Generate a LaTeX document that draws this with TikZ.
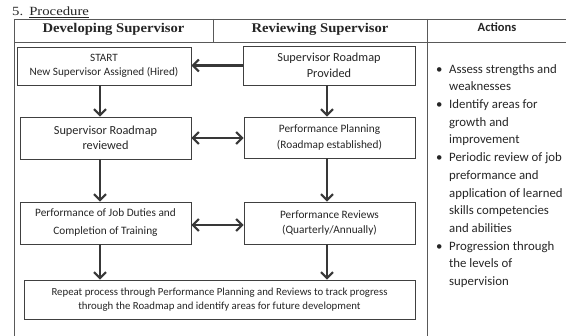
\documentclass[tikz,border=0pt]{standalone}
\usepackage{fontspec}
\setmainfont{Carlito}
\newfontfamily\headfont[FakeStretch=1.1]{Liberation Serif}
\newfontfamily\titlefont[FakeStretch=1.18]{Liberation Serif}
\usetikzlibrary{arrows.meta}

\begin{document}
\begin{tikzpicture}[x=1pt,y=-1pt,
  rule/.style={draw=black!65, line width=0.8pt},
  flowbox/.style={draw=black!75, line width=0.8pt, align=center, inner sep=0pt,
    text=black!85, font=\fontsize{11.3}{15.5}\selectfont},
  bigbox/.style={flowbox, font=\fontsize{12.3}{15.5}\selectfont},
  tip/.style={Straight Barb[length=6pt,width=12pt]},
  flow/.style={draw=black!78, line width=2.1pt, -{Straight Barb[length=6pt,width=12pt]}},
  twoway/.style={draw=black!78, line width=2.1pt, {Straight Barb[length=6pt,width=12pt]}-{Straight Barb[length=6pt,width=12pt]}},
  colhead/.style={anchor=base, text=black!85, font=\headfont\bfseries\fontsize{13.3}{16}\selectfont},
]
\useasboundingbox (0,0) rectangle (566,336);
\fill[white] (0,0) rectangle (566,336);

% section title
\node[anchor=base west, inner sep=0pt, text=black!85, font=\titlefont\fontsize{12.5}{15}\selectfont] (title) at (12,16)
  {5.\hspace{6pt}\underline{Procedure}};

% table frame
\draw[rule] (14,19) -- (566,19);
\draw[rule] (14,42) -- (566,42);
\draw[rule] (14,19) -- (14,336);
\draw[rule] (213,19) -- (213,42);
\draw[rule] (427,19) -- (427,336);

% column headings
\node[colhead] (hdev) at (113.5,33) {Developing Supervisor};
\node[colhead] (hrev) at (320,33) {Reviewing Supervisor};
\node[anchor=base, text=black!85, font=\bfseries\fontsize{12.5}{15}\selectfont] (hact) at (497,32) {Actions};

% flow boxes
\node[flowbox, minimum width=174pt, minimum height=38pt, font=\fontsize{11.2}{13.5}\selectfont] (start) at (104,66)
  {START\\New Supervisor Assigned (Hired)};
\node[bigbox, minimum width=172pt, minimum height=39pt] (provided) at (329,65.5)
  {Supervisor Roadmap\\Provided};
\node[bigbox, minimum width=171pt, minimum height=42pt] (reviewed) at (105.5,138)
  {Supervisor Roadmap\\reviewed};
\node[flowbox, minimum width=171pt, minimum height=41pt] (planning) at (329.5,137.5)
  {Performance Planning\\(Roadmap established)};
\node[flowbox, minimum width=171pt, minimum height=42pt, font=\fontsize{11.3}{18}\selectfont] (duties) at (105.5,223)
  {Performance of Job Duties and\\Completion of Training};
\node[flowbox, minimum width=171pt, minimum height=42pt] (reviews) at (329.5,223)
  {Performance Reviews\\(Quarterly/Annually)};
\node[flowbox, minimum width=391pt, minimum height=39pt, font=\fontsize{10.8}{14.5}\selectfont] (repeat) at (219.5,299.5)
  {Repeat process through Performance Planning and Reviews to track progress\\through the Roadmap and identify areas for future development};

% connectors
\coordinate (lx) at (100,0);
\coordinate (rx) at (327,0);
\draw[flow] (provided.west) -- (provided.west -| start.east);
\draw[flow] (start.south -| lx) -- (reviewed.north -| lx);
\draw[flow] (reviewed.south -| lx) -- (duties.north -| lx);
\draw[flow] (duties.south -| lx) -- (repeat.north -| lx);
\draw[flow] (provided.south -| rx) -- (planning.north -| rx);
\draw[flow] (planning.south -| rx) -- (reviews.north -| rx);
\draw[flow] (reviews.south -| rx) -- (repeat.north -| rx);
\draw[twoway] (reviewed.east) -- (reviewed.east -| planning.west);
\draw[twoway] (duties.east |- 0,225) -- (reviews.west |- 0,225);

% list of actions
\node[anchor=north west, inner sep=0pt, text=black!85, font=\fontsize{12.8}{17.7}\selectfont] (actions) at (436,60.6)
  {\begin{tabular}{@{}p{13pt}@{}l@{}}
   \textbullet & Assess strengths and\\
               & weaknesses\\
   \textbullet & Identify areas for\\
               & growth and\\
               & improvement\\
   \textbullet & Periodic review of job\\
               & preformance and\\
               & application of learned\\
               & skills competencies\\
               & and abilities\\
   \textbullet & Progression through\\
               & the levels of\\
               & supervision
  \end{tabular}};
\end{tikzpicture}
\end{document}
